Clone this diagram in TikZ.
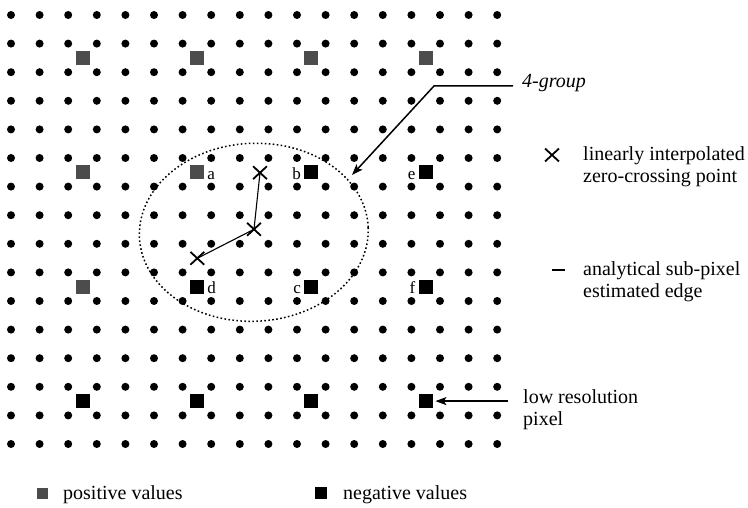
\documentclass[tikz,border=0pt]{standalone}
\usepackage{fontspec}
\setmainfont{Liberation Serif}
\usetikzlibrary{arrows.meta,shapes.geometric,shapes.misc}
\begin{document}
\begin{tikzpicture}[x=1pt,y=-1pt,
  possq/.style={rectangle,fill=black!70,inner sep=0,minimum size=14pt},
  negsq/.style={rectangle,fill=black,inner sep=0,minimum size=14pt},
  lab/.style={inner sep=0,font=\fontsize{17}{20}\selectfont},
  txt/.style={inner sep=0,align=left,font=\fontsize{20}{22}\selectfont},
  zc/.style={cross out,draw=black,line width=1.8pt,inner sep=0,minimum width=12pt,minimum height=11pt},
  edge/.style={line width=1.1pt},
  arr/.style={line width=1.5pt,-{Stealth[length=11pt,width=8pt,inset=2.5pt]}}
]
\fill[white] (0,0) rectangle (748,508);
\useasboundingbox (0,0) rectangle (748,508);
% grid of high resolution samples
\foreach \i in {0,...,17}{\foreach \j in {0,...,15}{\fill ({11+28.6*\i},{15+28.6*\j}) circle (4pt);}}
% low resolution pixels
\node[possq] (p1) at (82.5,57.9) {};
\node[possq] (p2) at (196.9,57.9) {};
\node[possq] (p3) at (311.3,57.9) {};
\node[possq] (p4) at (425.7,57.9) {};
\node[possq] (p5) at (82.5,172.3) {};
\node[possq] (sqa) at (196.9,172.3) {};
\node[negsq] (sqb) at (311.3,172.3) {};
\node[negsq] (sqe) at (425.7,172.3) {};
\node[possq] (p6) at (82.5,286.7) {};
\node[negsq] (sqd) at (196.9,286.7) {};
\node[negsq] (sqc) at (311.3,286.7) {};
\node[negsq] (sqf) at (425.7,286.7) {};
\node[negsq] (n1) at (82.5,401.1) {};
\node[negsq] (n2) at (196.9,401.1) {};
\node[negsq] (n3) at (311.3,401.1) {};
\node[negsq] (sqlr) at (425.7,401.1) {};
% labels
\node[lab,anchor=base west] (la) at ([xshift=3pt]sqa.south east) {a};
\node[lab,anchor=base east] (lb) at ([xshift=-3pt]sqb.south west) {b};
\node[lab,anchor=base east] (lc) at ([xshift=-3pt]sqc.south west) {c};
\node[lab,anchor=base west] (ld) at ([xshift=3pt]sqd.south east) {d};
\node[lab,anchor=base east] (le) at ([xshift=-3pt]sqe.south west) {e};
\node[lab,anchor=base east] (lf) at ([xshift=-3pt]sqf.south west) {f};
% 4-group ellipse
\node[draw,ellipse,line width=1.5pt,dash pattern=on 1.6pt off 2.4pt,minimum width=229pt,minimum height=178pt,inner sep=0,rotate=2.5] (grp) at (253.8,232.3) {};
% zero crossing points and edge
\node[zc] (x1) at (260,172.7) {};
\node[zc] (x2) at (254,229.3) {};
\node[zc] (x3) at (197.3,258.3) {};
\draw[edge] (x1.center) -- (x2.center) -- (x3.center);
% 4-group callout
\node[inner sep=0,anchor=base west,font={\fontsize{20}{22}\selectfont\itshape}] (g4) at (522,87.3) {4-group};
\coordinate (bend) at (434,86);
\coordinate (tip) at (352,175);
\draw[arr] ([xshift=-9pt,yshift=1.3pt]g4.base west) -- (bend) -- (tip);
% right legend
\node[zc] (lx) at (552,155) {};
\node[txt,anchor=west] (t1) at (583,166.3) {linearly interpolated\\zero-crossing point};
\coordinate (le1) at (552,270);
\coordinate (le2) at (565,270);
\draw[edge] (le1) -- (le2);
\node[txt,anchor=west] (t2) at (583,281.3) {analytical sub-pixel\\estimated edge};
\node[txt,anchor=west] (t3) at (523,409.3) {low resolution\\pixel};
\coordinate (lrtail) at (508,401.1);
\draw[arr,shorten >=2.5pt] (lrtail) -- (sqlr);
% bottom legend
\node[possq,minimum size=11pt] (lp) at (42,493) {};
\node[txt,anchor=base west] (tp) at (63,499) {positive values};
\node[negsq,minimum size=12pt] (ln) at (321,493) {};
\node[txt,anchor=base west] (tn) at (343,499) {negative values};
\end{tikzpicture}
\end{document}
